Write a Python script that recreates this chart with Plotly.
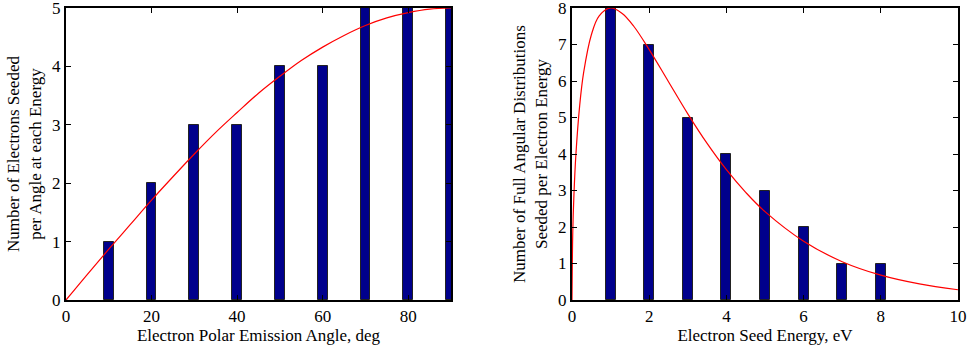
import plotly.graph_objects as go

# Left panel data
angle_bins = [10, 20, 30, 40, 50, 60, 70, 80, 90]
angle_counts = [1, 2, 3, 3, 4, 4, 5, 5, 5]
angle_curve_x = [0, 5, 10, 15, 20, 25, 30, 35, 40, 45, 50, 55, 60, 65, 70, 75, 80, 85, 90]
angle_curve_y = [0, 0.44, 0.87, 1.29, 1.71, 2.11, 2.50, 2.87, 3.21, 3.54, 3.83, 4.10, 4.33, 4.53, 4.70, 4.83, 4.92, 4.98, 5.0]
angle_xticks = [0, 20, 40, 60, 80]
angle_yticks = [0, 1, 2, 3, 4, 5]

# Right panel data
energy_bins = [1, 2, 3, 4, 5, 6, 7, 8]
energy_counts = [8, 7, 5, 4, 3, 2, 1, 1]
energy_curve_x = [0, 0.02, 0.05, 0.1, 0.2, 0.3, 0.5, 0.7, 1.0, 1.3, 1.6, 2.0, 2.5, 3.0, 3.5, 4.0, 4.5, 5.0, 6.0, 7.0, 8.0, 9.0, 10.0]
energy_curve_y = [0, 1.85, 2.88, 3.97, 5.34, 6.22, 7.26, 7.78, 8.0, 7.85, 7.50, 6.86, 5.98, 5.10, 4.29, 3.57, 2.95, 2.42, 1.61, 1.05, 0.68, 0.44, 0.28]
energy_xticks = [0, 2, 4, 6, 8, 10]
energy_yticks = [0, 1, 2, 3, 4, 5, 6, 7, 8]

FONT = "Liberation Serif"
BAR_COLOR = "#00008C"
TICK_SIZE = 17
TITLE_SIZE = 17

W, H = 971, 347
T, B = 8, 47  # plot area top / bottom offsets in px

fig = go.Figure()
fig.add_trace(go.Bar(x=angle_bins, y=angle_counts, width=2.3, marker=dict(color=BAR_COLOR, line=dict(color="#222222", width=1)),
                     xaxis="x", yaxis="y", showlegend=False))
fig.add_trace(go.Scatter(x=angle_curve_x, y=angle_curve_y, mode="lines", line=dict(color="red", width=1.2, shape="spline"),
                         xaxis="x", yaxis="y", showlegend=False))
fig.add_trace(go.Bar(x=energy_bins, y=energy_counts, width=0.26, marker=dict(color=BAR_COLOR, line=dict(color="#222222", width=1)),
                     xaxis="x2", yaxis="y2", showlegend=False))
fig.add_trace(go.Scatter(x=energy_curve_x, y=energy_curve_y, mode="lines", line=dict(color="red", width=1.2, shape="spline"),
                         xaxis="x2", yaxis="y2", showlegend=False))

axis_common = dict(showgrid=False, zeroline=False, showline=True, linecolor="black", linewidth=2,
                   mirror="ticks", ticks="inside", ticklen=5, tickcolor="black", tickwidth=1,
                   automargin=False, ticklabeloverflow="allow",
                   tickfont=dict(family=FONT, size=TICK_SIZE, color="black"))

fig.update_layout(
    width=W, height=H,
    margin=dict(l=0, r=0, t=T, b=B, autoexpand=False),
    paper_bgcolor="white", plot_bgcolor="white",
    font=dict(family=FONT, color="black"),
    bargap=0,
    xaxis=dict(domain=[66/W, 451/W], range=[0, 90], tickvals=angle_xticks,
               title=dict(text="Electron Polar Emission Angle, deg", font=dict(family=FONT, size=TITLE_SIZE), standoff=1),
               anchor="y", **axis_common),
    yaxis=dict(domain=[0, 1], range=[0, 5], tickvals=angle_yticks, ticktext=[str(v) for v in angle_yticks],
               title=dict(text="Number of Electrons Seeded<br>per Angle at each Energy", font=dict(family=FONT, size=TITLE_SIZE), standoff=6),
               anchor="x", **axis_common),
    xaxis2=dict(domain=[572/W, 958/W], range=[0, 10], tickvals=energy_xticks,
                title=dict(text="Electron Seed Energy, eV", font=dict(family=FONT, size=TITLE_SIZE), standoff=1),
                anchor="y2", **axis_common),
    yaxis2=dict(domain=[0, 1], range=[0, 8], tickvals=energy_yticks, ticktext=[str(v) for v in energy_yticks],
                title=dict(text="Number of Full Angular Distributions<br>Seeded per Electron Energy", font=dict(family=FONT, size=TITLE_SIZE), standoff=6),
                anchor="x2", **axis_common),
)

fig.write_html("out.html")
